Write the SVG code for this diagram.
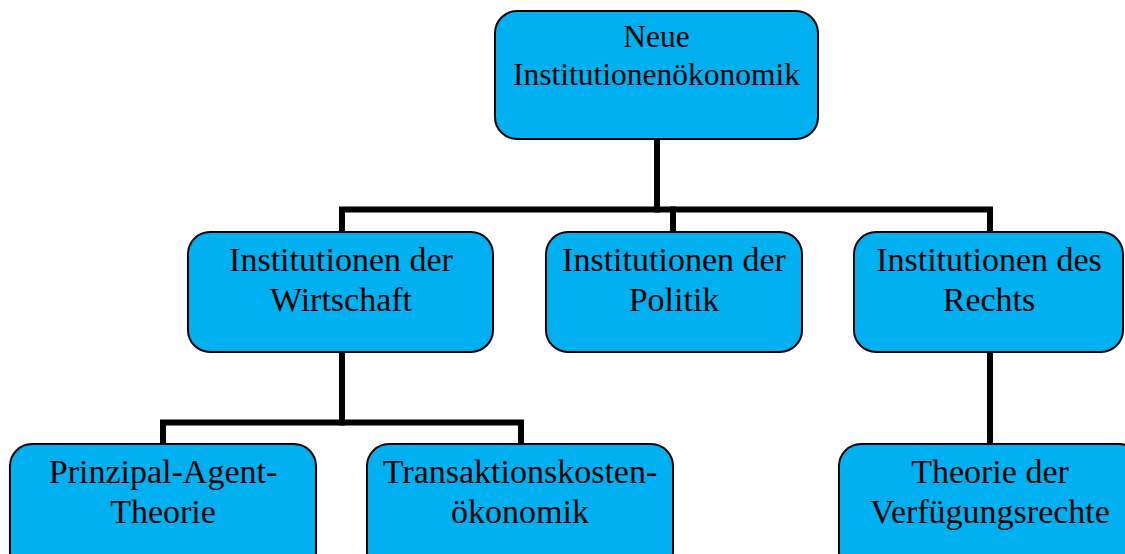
<svg xmlns="http://www.w3.org/2000/svg" width="1125" height="554" viewBox="0 0 1125 554">
  <style>
    .box { fill: #00B0F0; stroke: #000; stroke-width: 2; }
    .lbl { font-family: "Liberation Serif", "Times New Roman", serif; fill: #000; text-anchor: middle; }
    .l1 { font-size: 31.5px; }
    .l2 { font-size: 34px; }
    .conn { fill: none; stroke: #000; stroke-width: 6; stroke-linejoin: miter; stroke-linecap: square; }
  </style>
  <rect width="1125" height="554" fill="#fff"/>

  <g id="connectors">
    <path class="conn" d="M657 140 V209.5"/>
    <path class="conn" d="M342 231 V209.5 H990 V231"/>
    <path class="conn" d="M673 209.5 V231"/>
    <path class="conn" d="M342 353 V422.5"/>
    <path class="conn" d="M163 443 V422.5 H521 V443"/>
    <path class="conn" d="M990 353 V443"/>
  </g>

  <g id="node-nie">
    <rect class="box" x="495" y="11" width="323" height="128" rx="22"/>
    <text class="lbl l1" x="656.5" y="47">Neue</text>
    <text class="lbl l1" x="656.5" y="85">Institutionenökonomik</text>
  </g>

  <g id="node-wirtschaft">
    <rect class="box" x="188" y="232" width="305" height="120" rx="22"/>
    <text class="lbl l2" x="341" y="271">Institutionen der</text>
    <text class="lbl l2" x="341" y="311">Wirtschaft</text>
  </g>

  <g id="node-politik">
    <rect class="box" x="546" y="232" width="256" height="120" rx="22"/>
    <text class="lbl l2" x="674" y="271">Institutionen der</text>
    <text class="lbl l2" x="674" y="311">Politik</text>
  </g>

  <g id="node-rechts">
    <rect class="box" x="854" y="232" width="269" height="120" rx="22"/>
    <text class="lbl l2" x="989" y="271">Institutionen des</text>
    <text class="lbl l2" x="989" y="311">Rechts</text>
  </g>

  <g id="node-prinzipal">
    <rect class="box" x="10" y="444" width="306" height="130" rx="22"/>
    <text class="lbl l2" x="163" y="483">Prinzipal-Agent-</text>
    <text class="lbl l2" x="163" y="523">Theorie</text>
  </g>

  <g id="node-transaktion">
    <rect class="box" x="367" y="444" width="306" height="130" rx="22"/>
    <text class="lbl l2" x="520" y="483">Transaktionskosten-</text>
    <text class="lbl l2" x="520" y="523">ökonomik</text>
  </g>

  <g id="node-verfuegung">
    <rect class="box" x="839" y="444" width="302" height="130" rx="22"/>
    <text class="lbl l2" x="990" y="483">Theorie der</text>
    <text class="lbl l2" x="990" y="523">Verfügungsrechte</text>
  </g>
</svg>
